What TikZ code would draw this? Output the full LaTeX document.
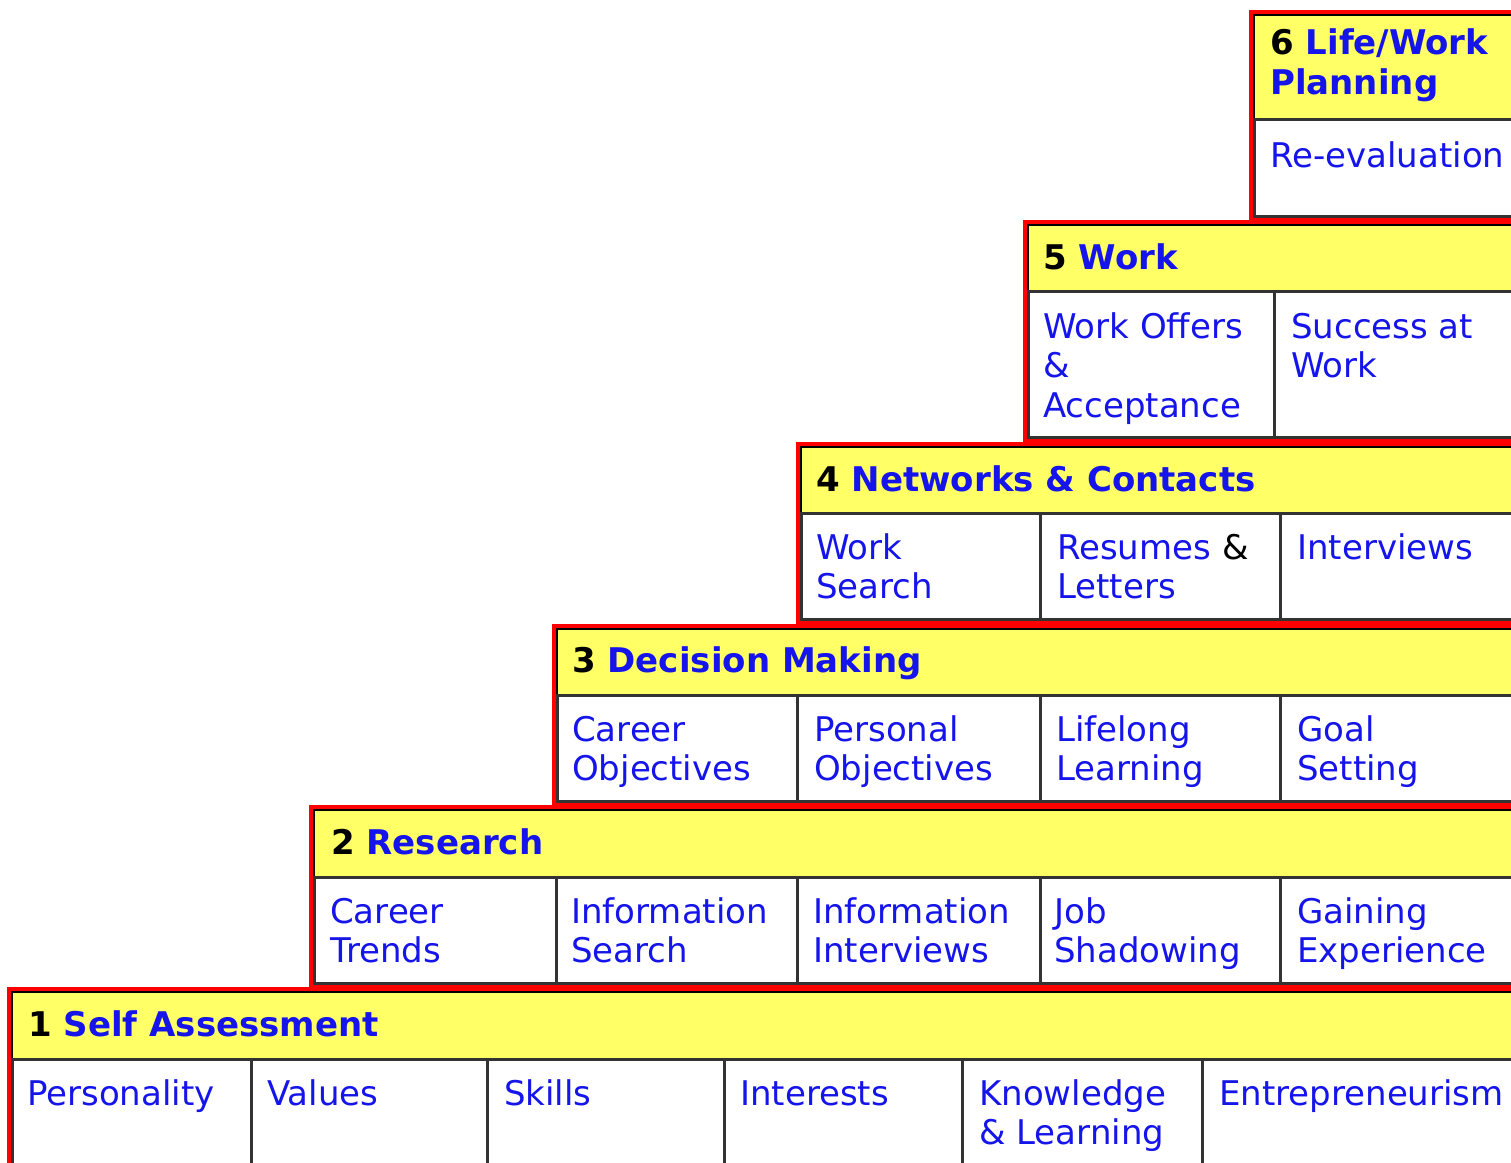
\documentclass[tikz,border=0pt]{standalone}
\usepackage{fontspec}
\setmainfont{DejaVu Sans}
\definecolor{stepyellow}{RGB}{255,255,102}
\definecolor{stepblue}{RGB}{20,20,235}
\tikzset{
  levelframe/.style={draw=red,line width=3.5pt,fill=white},
  header/.style={draw=black,line width=2.5pt,fill=stepyellow},
  cellbox/.style={draw=black!80,line width=3pt,fill=white},
  headtext/.style={anchor=base west,inner sep=0pt,text=stepblue,align=left,
    font=\fontsize{34}{39.5}\selectfont\bfseries},
  celltext/.style={anchor=base west,inner sep=0pt,text=stepblue,align=left,
    font=\fontsize{34}{39.5}\selectfont}
}
\newcommand{\stepno}[1]{\textcolor{black}{#1}}

\begin{document}
\begin{tikzpicture}[x=1pt,y=-1pt]
\useasboundingbox (0,0) rectangle (1511,1162);
\clip (0,0) rectangle (1511,1162);

% 6 life/work planning (multi-line texts sit on their last line)
\draw[levelframe] (1251,12) rectangle (1530,219);
\draw[header] (1254,15) rectangle (1530,119);
\draw[cellbox] (1254,119) rectangle (1530,216);
\node[headtext] (h6) at (1270,94) {\stepno{6} Life/Work\\Planning};
\node[celltext] (c61) at (1270,167) {Re-evaluation};

% 5 work
\draw[levelframe] (1025,222) rectangle (1530,440);
\draw[header] (1028,225) rectangle (1530,291);
\foreach \xa/\xb in {1028/1274,1274/1530}
  \draw[cellbox] (\xa,291) rectangle (\xb,437);
\node[headtext] (h5) at (1043,269) {\stepno{5} Work};
\node[celltext] (c51) at (1043,417) {Work Offers\\\&\\Acceptance};
\node[celltext] (c52) at (1291,377.5) {Success at\\Work};

% 4 networks and contacts
\draw[levelframe] (798,444) rectangle (1530,622);
\draw[header] (801,447) rectangle (1530,513);
\foreach \xa/\xb in {801/1040,1040/1280,1280/1530}
  \draw[cellbox] (\xa,513) rectangle (\xb,619);
\node[headtext] (h4) at (816,491) {\stepno{4} Networks \& Contacts};
\node[celltext] (c41) at (816,598.5) {Work\\Search};
\node[celltext] (c42) at (1057,598.5) {Resumes \textcolor{black}{\&}\\Letters};
\node[celltext] (c43) at (1297,559) {Interviews};

% 3 decision making
\draw[levelframe] (554,626) rectangle (1530,804);
\draw[header] (557,629) rectangle (1530,695);
\foreach \xa/\xb in {557/797,797/1040,1040/1280,1280/1530}
  \draw[cellbox] (\xa,695) rectangle (\xb,801);
\node[headtext] (h3) at (572,672) {\stepno{3} Decision Making};
\node[celltext] (c31) at (572,780.5) {Career\\Objectives};
\node[celltext] (c32) at (814,780.5) {Personal\\Objectives};
\node[celltext] (c33) at (1056,780.5) {Lifelong\\Learning};
\node[celltext] (c34) at (1297,780.5) {Goal\\Setting};

% 2 research
\draw[levelframe] (311,807) rectangle (1530,986);
\draw[header] (314,810) rectangle (1530,877);
\foreach \xa/\xb in {314/556,556/797,797/1040,1040/1280,1280/1530}
  \draw[cellbox] (\xa,877) rectangle (\xb,983);
\node[headtext] (h2) at (331,854) {\stepno{2} Research};
\node[celltext] (c21) at (330,962.5) {Career\\Trends};
\node[celltext] (c22) at (571,962.5) {Information\\Search};
\node[celltext] (c23) at (813,962.5) {Information\\Interviews};
\node[celltext] (c24) at (1054,962.5) {Job\\Shadowing};
\node[celltext] (c25) at (1297,962.5) {Gaining\\Experience};

% 1 self assessment
\draw[levelframe] (9,989) rectangle (1530,1190);
\draw[header] (12,992) rectangle (1530,1059);
\foreach \xa/\xb in {12/251,251/487,487/724,724/962,962/1202,1202/1530}
  \draw[cellbox] (\xa,1059) rectangle (\xb,1190);
\node[headtext] (h1) at (28,1036) {\stepno{1} Self Assessment};
\node[celltext] (c11) at (27,1105) {Personality};
\node[celltext] (c12) at (267,1105) {Values};
\node[celltext] (c13) at (504,1105) {Skills};
\node[celltext] (c14) at (740,1105) {Interests};
\node[celltext] (c15) at (979,1144.5) {Knowledge\\\& Learning};
\node[celltext] (c16) at (1219,1105) {Entrepreneurism};
\end{tikzpicture}
\end{document}
